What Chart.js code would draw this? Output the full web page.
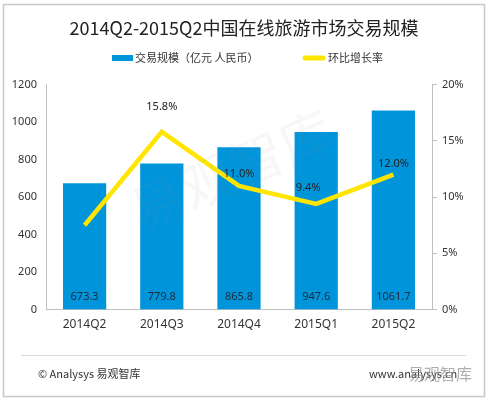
<!DOCTYPE html>
<html><head><meta charset="utf-8">
<script src="https://cdn.jsdelivr.net/npm/chart.js@4.4.0/dist/chart.umd.min.js"></script>
<style>html,body{margin:0;padding:0;background:#fff;}#wrap{width:488px;height:400px;position:relative}</style>
</head><body><div id="wrap"><canvas id="c" width="488" height="400"></canvas></div>
<script>
const categories = ['2014Q2', '2014Q3', '2014Q4', '2015Q1', '2015Q2'];
const volume = [673.3, 779.8, 865.8, 947.6, 1061.7];
const growth = [7.5, 15.8, 11.0, 9.4, 12.0];
const growthLabels = ['', '15.8%', '11.0%', '9.4%', '12.0%'];
const leftTicks = [0, 200, 400, 600, 800, 1000, 1200];
const rightTicks = [0, 5, 10, 15, 20];
const titleText = '2014Q2-2015Q2中国在线旅游市场交易规模';
const seriesNames = ['交易规模（亿元 人民币）', '环比增长率'];

const FONT = '"Noto Sans", "Noto Sans CJK SC", sans-serif';
const CJK = '"Noto Sans CJK SC", "Noto Sans", sans-serif';
const BLUE = '#0095DB';
const YELLOW = '#FFE500';
const AXIS = '#bfbfbf';

const decor = {
  id: 'decor',
  beforeDraw(chart) {
    const ctx = chart.ctx;
    ctx.save();
    ctx.fillStyle = '#fff';
    ctx.fillRect(0, 0, chart.width, chart.height);
    ctx.restore();
  },
  afterDatasetsDraw(chart, args, opts) {
    const ctx = chart.ctx;
    ctx.save();
    // bar value labels
    const barMeta = chart.getDatasetMeta(1);
    const yScale = chart.scales.y;
    ctx.font = '11px ' + FONT;
    ctx.fillStyle = '#1d2b3a';
    ctx.textAlign = 'center';
    ctx.textBaseline = 'middle';
    barMeta.data.forEach((el, i) => {
      ctx.fillText(volume[i].toFixed(1), el.x, yScale.bottom - 13);
    });
    // line labels
    const lineMeta = chart.getDatasetMeta(0);
    ctx.fillStyle = '#222';
    lineMeta.data.forEach((el, i) => {
      if (!growthLabels[i]) return;
      ctx.fillText(growthLabels[i], el.x + opts.dx[i], el.y - opts.dy[i]);
    });
    // faint watermark
    ctx.translate(232, 170);
    ctx.rotate(-0.42);
    ctx.font = '54px ' + CJK;
    ctx.fillStyle = 'rgba(140,140,140,0.07)';
    ctx.fillText('易观智库', 0, 0);
    ctx.restore();
  },
  afterDraw(chart) {
    const ctx = chart.ctx;
    ctx.save();
    // legend
    ctx.textBaseline = 'middle';
    ctx.textAlign = 'left';
    ctx.font = '11px ' + CJK;
    ctx.fillStyle = BLUE;
    ctx.fillRect(112, 55, 21, 6);
    ctx.fillStyle = '#333';
    ctx.fillText(seriesNames[0], 135, 58);
    ctx.strokeStyle = YELLOW;
    ctx.lineWidth = 5;
    ctx.lineCap = 'round';
    ctx.beginPath();
    ctx.moveTo(305, 58); ctx.lineTo(323, 58); ctx.stroke();
    ctx.fillText(seriesNames[1], 328, 58);
    // frame
    ctx.lineCap = 'butt';
    ctx.strokeStyle = '#c8c8c8';
    ctx.lineWidth = 1.5;
    ctx.strokeRect(3.5, 4.5, 481, 392);
    // separator
    ctx.strokeStyle = '#dcdcdc';
    ctx.lineWidth = 1;
    ctx.beginPath();
    ctx.moveTo(21, 355.5); ctx.lineTo(466, 355.5); ctx.stroke();
    // footer
    ctx.fillStyle = '#333';
    ctx.font = '11px ' + CJK;
    ctx.fillText('© Analysys 易观智库', 38, 374);
    ctx.fillText('www.analysys.cn', 369, 374);
    ctx.font = '16px ' + CJK;
    ctx.fillStyle = 'rgba(150,150,150,0.75)';
    ctx.fillText('易观智库', 408, 374);
    ctx.restore();
  }
};

new Chart(document.getElementById('c'), {
  data: {
    labels: categories,
    datasets: [
      {
        type: 'line', label: seriesNames[1], data: growth, yAxisID: 'y1',
        borderColor: YELLOW, backgroundColor: YELLOW, borderWidth: 4.5,
        pointRadius: 0, tension: 0, order: 0, borderJoinStyle: 'miter'
      },
      {
        type: 'bar', label: seriesNames[0], data: volume, yAxisID: 'y',
        backgroundColor: BLUE, barPercentage: 0.56, categoryPercentage: 1, order: 1
      }
    ]
  },
  options: {
    responsive: false,
    animation: false,
    devicePixelRatio: 1,
    layout: { padding: { left: 0, right: 0, top: 0, bottom: 60 } },
    plugins: {
      legend: { display: false },
      tooltip: { enabled: false },
      title: {
        display: true, text: titleText, color: '#222',
        font: { size: 18, family: CJK, weight: 'normal' },
        padding: { top: 17, bottom: 46 }
      },
      decor: { dx: [0, 0, 0, -8, 0], dy: [0, 25, 12, 16, 11] }
    },
    scales: {
      x: {
        grid: { display: false, drawTicks: false },
        border: { display: true, color: AXIS },
        ticks: { color: '#333', font: { size: 12, family: FONT }, padding: 8 }
      },
      y: {
        position: 'left', min: 0, max: 1200,
        afterBuildTicks(s) { s.ticks = leftTicks.map(v => ({ value: v })); },
        grid: { display: false, drawTicks: false },
        border: { display: true, color: AXIS },
        ticks: { color: '#333', font: { size: 11, family: FONT }, padding: 9, callback: v => String(v) },
        afterFit(s) { s.width = 46; }
      },
      y1: {
        position: 'right', min: 0, max: 20,
        afterBuildTicks(s) { s.ticks = rightTicks.map(v => ({ value: v })); },
        grid: { display: true, drawOnChartArea: false, drawTicks: true, tickLength: 5, color: AXIS },
        border: { display: true, color: AXIS },
        ticks: { color: '#333', font: { size: 11, family: FONT }, padding: 5, callback: v => v + '%' },
        afterFit(s) { s.width = 56; }
      }
    }
  },
  plugins: [decor]
});
</script></body></html>
